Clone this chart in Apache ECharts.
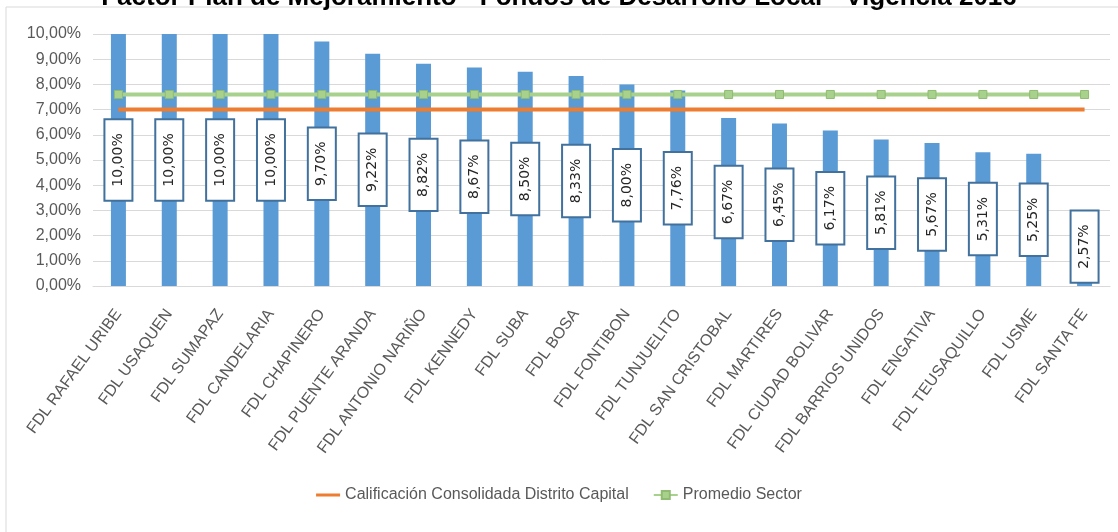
<!DOCTYPE html>
<html><head><meta charset="utf-8">
<script src="https://cdn.jsdelivr.net/npm/echarts@6/dist/echarts.min.js"></script>
<style>html,body{margin:0;padding:0;background:#fff}#c{width:1118px;height:532px}</style>
</head><body><div id="c"></div>
<script>
const titleText = 'Factor Plan de Mejoramiento - Fondos de Desarrollo Local - Vigencia 2016';
const categories = ['FDL RAFAEL URIBE','FDL USAQUEN','FDL SUMAPAZ','FDL CANDELARIA','FDL CHAPINERO','FDL PUENTE ARANDA','FDL ANTONIO NARIÑO','FDL KENNEDY','FDL SUBA','FDL BOSA','FDL FONTIBON','FDL TUNJUELITO','FDL SAN CRISTOBAL','FDL MARTIRES','FDL CIUDAD BOLIVAR','FDL BARRIOS UNIDOS','FDL ENGATIVA','FDL TEUSAQUILLO','FDL USME','FDL SANTA FE'];
const barValues = [10.00,10.00,10.00,10.00,9.70,9.22,8.82,8.67,8.50,8.33,8.00,7.76,6.67,6.45,6.17,5.81,5.67,5.31,5.25,2.57];
const consolidada = [7.0,7.0,7.0,7.0,7.0,7.0,7.0,7.0,7.0,7.0,7.0,7.0,7.0,7.0,7.0,7.0,7.0,7.0,7.0,7.0];
const promedio = [7.6,7.6,7.6,7.6,7.6,7.6,7.6,7.6,7.6,7.6,7.6,7.6,7.6,7.6,7.6,7.6,7.6,7.6,7.6,7.6];
const seriesNames = ['Calificación Consolidada Distrito Capital','Promedio Sector'];

const fmt = v => v.toFixed(2).replace('.', ',') + '%';
const barData = barValues.map(v => v < 4 ? {value:v, label:{offset:[7,0]}} : v);
const chart = echarts.init(document.getElementById('c'));
chart.setOption({
  animation:false,
  backgroundColor:'#fff',
  graphic:[{type:'rect',shape:{x:6,y:7,width:1130,height:540},style:{fill:'none',stroke:'#d9d9d9',lineWidth:1},silent:true}],
  title:{text:titleText,left:'center',top:-20,textStyle:{fontFamily:'Liberation Sans',fontWeight:'bold',fontSize:26,color:'#000'}},
  grid:{left:93,right:8,top:34,bottom:246,containLabel:false},
  legend:{bottom:24,left:'center',itemGap:24,itemWidth:24,itemHeight:10,
    textStyle:{fontFamily:'Liberation Sans',fontSize:16,color:'#595959'},
    data:[{name:seriesNames[0],icon:'path://M0,0 H24 V3 H0 Z',itemStyle:{color:'#ED7D31'}},{name:seriesNames[1]}]},
  xAxis:{type:'category',data:categories,
    axisLine:{lineStyle:{color:'#d9d9d9'}},axisTick:{show:false},
    axisLabel:{interval:0,rotate:54,fontFamily:'Liberation Sans',fontSize:16,color:'#595959',margin:25}},
  yAxis:{type:'value',min:0,max:10,interval:1,
    axisLine:{show:false},axisTick:{show:false},
    splitLine:{lineStyle:{color:'#d9d9d9'}},
    axisLabel:{formatter:v=>fmt(v),fontFamily:'Liberation Sans',fontSize:16,color:'#595959',margin:12}},
  series:[
    {type:'bar',name:'bars',data:barData,barWidth:15,itemStyle:{color:'#5B9BD5'},
      label:{show:true,position:'inside',rotate:90,formatter:p=>fmt(p.value),
        fontFamily:'DejaVu Sans',fontSize:14,lineHeight:16,color:'#262626',backgroundColor:'#fff',
        borderColor:'#41719C',borderWidth:2,padding:[5,13,5,13]},z:2},
    {type:'line',name:seriesNames[0],data:consolidada,symbol:'none',lineStyle:{color:'#ED7D31',width:4},itemStyle:{color:'#ED7D31'},z:3},
    {type:'line',name:seriesNames[1],data:promedio,symbol:'rect',symbolSize:8,showSymbol:true,lineStyle:{color:'#A9D18E',width:4},
      itemStyle:{color:'#A9D18E',borderColor:'#8FBC70',borderWidth:1},z:4}
  ]
});
</script></body></html>
